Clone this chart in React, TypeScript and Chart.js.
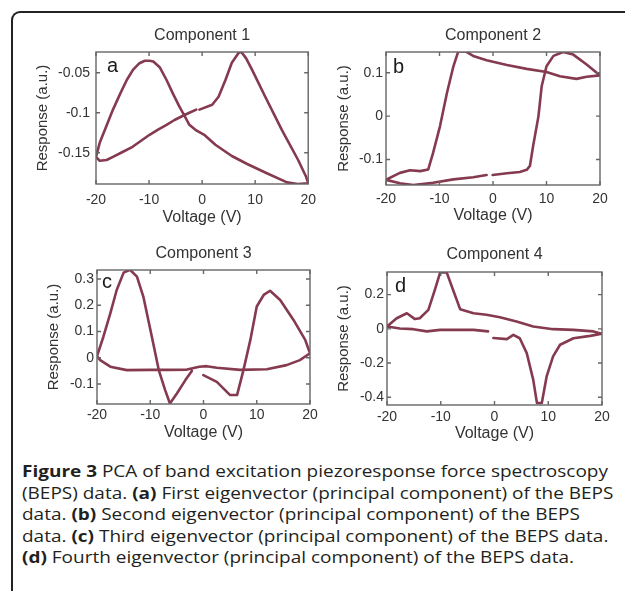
import React, { useEffect, useRef } from 'react';
import { Chart, registerables } from 'chart.js';

Chart.register(...registerables);

// ---- data -------------------------------------------------------------
const voltageTicks = [-20, -10, 0, 10, 20];

// Component 1 loop (0 → +20 → -20 → 0)
const voltsA = [-0.5, 1.9, 3.1, 4.4, 5.6, 6.9, 7.4, 8.3, 9.4, 11.9, 15, 18.1, 19.6, 20,
  18, 16, 12, 8.5, 5.6, 2.5, 0.5, -1.1, -2.4, -3.3, -4.3, -5.5, -6.7, -8, -9.2, -9.9, -10.8, -11.8, -13, -14.2, -15.5, -16.8, -18, -19.3, -20,
  -19.3, -18, -16.8, -15, -13.1, -11.5, -9.9, -8.3, -6.7, -5.2, -3.7, -2.4, -1.1];
const respA = [-0.096, -0.09, -0.08, -0.059, -0.0375, -0.025, -0.024, -0.032, -0.046, -0.08, -0.121, -0.159, -0.18, -0.188,
  -0.189, -0.187, -0.175, -0.164, -0.154, -0.14, -0.128, -0.122, -0.115, -0.104, -0.092, -0.076, -0.059, -0.043, -0.036, -0.035, -0.035, -0.038, -0.046, -0.059, -0.077, -0.096, -0.116, -0.1375, -0.155,
  -0.16, -0.159, -0.155, -0.149, -0.1425, -0.135, -0.1275, -0.121, -0.115, -0.109, -0.104, -0.1, -0.096];

// Component 2 loop
const voltsB = [-0.06, 2.6, 5, 6.3, 6.9, 7.5, 8.5, 9.1, 10, 11.3, 13.1, 15, 17.5, 20,
  17.5, 15.6, 12.5, 10, 6.3, 2.6, -1.2, -3.7, -5.2, -6.5, -7.4, -8.6, -9.9, -11.2, -12.1, -13.6, -15.5, -17.4, -20,
  -17.4, -14.9, -11.2, -7.4, -3.7, -1.2];
const respB = [-0.136, -0.132, -0.129, -0.124, -0.115, -0.069, 0, 0.069, 0.115, 0.139, 0.148, 0.142, 0.119, 0.094,
  0.091, 0.086, 0.092, 0.102, 0.109, 0.118, 0.129, 0.139, 0.15, 0.149, 0.115, 0.054, -0.023, -0.085, -0.123, -0.127, -0.125, -0.131, -0.147,
  -0.155, -0.159, -0.154, -0.146, -0.141, -0.136];

// Component 3 loop
const voltsC = [-0.03, 2.5, 5, 6.3, 7.5, 8.8, 10, 11.3, 12.5, 14.4, 16.9, 19.1, 20,
  18.1, 15.6, 11.9, 6.9, 2.5, 0.6, -0.8, -3.1, -6.5, -10, -14.4, -17.5, -19.4, -20,
  -18.8, -17.5, -16.3, -15, -13.8, -12.5, -11.3, -9.7, -8.4, -7.2, -6.3, -5, -3.4, -2.2];
const respC = [-0.066, -0.092, -0.142, -0.142, -0.047, 0.068, 0.195, 0.239, 0.255, 0.22, 0.144, 0.068, 0.017,
  -0.009, -0.028, -0.044, -0.046, -0.038, -0.032, -0.034, -0.045, -0.046, -0.046, -0.047, -0.034, -0.009, 0.006,
  0.08, 0.169, 0.258, 0.324, 0.335, 0.309, 0.233, 0.08, -0.047, -0.123, -0.174, -0.136, -0.085, -0.05];

// Component 4 loop
const voltsD = [-0.2, 2.3, 3.5, 4.7, 6, 7.2, 7.9, 8.8, 9.7, 10.9, 12.2, 14.7, 17.8, 20,
  18.4, 14.7, 10.9, 7.2, 4.1, 1, -1.5, -3.9, -6.4, -7.7, -8.9, -10.1, -11.1, -12.3, -13.9, -14.8, -16.3, -18.2, -20,
  -17.6, -15.1, -12.6, -10.1, -7, -3.9, -1.2];
const respD = [-0.054, -0.06, -0.035, -0.055, -0.142, -0.297, -0.433, -0.433, -0.278, -0.161, -0.093, -0.055, -0.041, -0.029,
  -0.015, -0.006, -0.002, 0.014, 0.043, 0.068, 0.082, 0.091, 0.115, 0.227, 0.33, 0.33, 0.227, 0.111, 0.062, 0.057, 0.091, 0.062, 0.014,
  0.002, -0.002, -0.015, -0.006, -0.006, -0.006, -0.015];

const yTicksA = [-0.15, -0.1, -0.05];
const yTicksB = [-0.1, 0, 0.1];
const yTicksC = [-0.1, 0, 0.1, 0.2, 0.3];
const yTicksD = [-0.4, -0.2, 0, 0.2];

const titles = ['Component 1', 'Component 2', 'Component 3', 'Component 4'];
const letters = ['a', 'b', 'c', 'd'];

// ---- styling ------------------------------------------------------------
const FONT = '"Liberation Sans", Arial, Helvetica, sans-serif';
const TEXT = '#333333';
const LINE = '#853a4f';
const BOX = '#666666';

type Geo = {
  left: number; top: number; width: number; height: number;
  yAxisW: number; xAxisH: number; titleGap: number; padRight: number;
  xTickPad: number; yTickPad: number; letterDx: number; letterDy: number;
};

type PanelProps = {
  title: string; letter: string; volts: number[]; resp: number[];
  yMin: number; yMax: number; yTicks: number[]; geo: Geo;
};

// draws the axes box, inward tick marks and the panel letter
const panelFrame = {
  id: 'panelFrame',
  afterDatasetsDraw(chart: any, _args: any, opts: any) {
    const { ctx, chartArea: a, scales } = chart;
    const len = 4;
    ctx.save();
    ctx.strokeStyle = BOX;
    ctx.lineWidth = 1.4;
    ctx.strokeRect(a.left, a.top, a.right - a.left, a.bottom - a.top);
    ctx.beginPath();
    scales.x.ticks.forEach((t: any) => {
      const px = scales.x.getPixelForValue(t.value);
      ctx.moveTo(px, a.bottom); ctx.lineTo(px, a.bottom - len);
      ctx.moveTo(px, a.top); ctx.lineTo(px, a.top + len);
    });
    scales.y.ticks.forEach((t: any) => {
      const py = scales.y.getPixelForValue(t.value);
      ctx.moveTo(a.left, py); ctx.lineTo(a.left + len, py);
      ctx.moveTo(a.right, py); ctx.lineTo(a.right - len, py);
    });
    ctx.stroke();
    ctx.fillStyle = '#1a1a1a';
    ctx.font = `20px ${FONT}`;
    ctx.textBaseline = 'alphabetic';
    ctx.textAlign = 'left';
    ctx.fillText(opts.letter, a.left + opts.dx, a.top + opts.dy);
    ctx.restore();
  },
};

function Panel({ title, letter, volts, resp, yMin, yMax, yTicks, geo }: PanelProps) {
  const ref = useRef<HTMLCanvasElement>(null);

  useEffect(() => {
    if (!ref.current) return;
    const tickFont = { family: FONT, size: 14 };
    const titleFont = { family: FONT, size: 16 };
    const xTitleFont = { family: FONT, size: 16 };
    const yTitleFont = { family: FONT, size: 15 };
    const chart = new Chart(ref.current, {
      type: 'scatter',
      data: {
        datasets: [{
          data: volts.map((v, i) => ({ x: v, y: resp[i] })),
          showLine: true,
          borderColor: LINE,
          borderWidth: 2.6,
          borderJoinStyle: 'round',
          borderCapStyle: 'round',
          pointRadius: 0,
          tension: 0,
        }],
      },
      options: {
        animation: false,
        responsive: false,
        events: [],
        layout: { padding: { left: 0, right: geo.padRight, top: 0, bottom: 0 } },
        plugins: {
          legend: { display: false },
          tooltip: { enabled: false },
          title: {
            display: true,
            text: title,
            color: TEXT,
            fullSize: false,
            font: { ...titleFont, weight: 'normal' },
            padding: { top: 0, bottom: geo.titleGap },
          },
          panelFrame: { letter, dx: geo.letterDx, dy: geo.letterDy },
        } as any,
        scales: {
          x: {
            type: 'linear',
            min: -20,
            max: 20,
            grid: { display: false, drawTicks: false },
            border: { display: false },
            afterBuildTicks: (s: any) => { s.ticks = voltageTicks.map((v) => ({ value: v })); },
            afterFit: (s: any) => { s.height = geo.xAxisH; },
            ticks: {
              padding: geo.xTickPad, color: TEXT, font: tickFont,
              maxRotation: 0, autoSkip: false, callback: (v: any) => String(v),
            },
            title: { display: true, text: 'Voltage (V)', color: TEXT, font: xTitleFont, padding: 0 },
          },
          y: {
            type: 'linear',
            min: yMin,
            max: yMax,
            grid: { display: false, drawTicks: false },
            border: { display: false },
            afterBuildTicks: (s: any) => { s.ticks = yTicks.map((v) => ({ value: v })); },
            afterFit: (s: any) => { s.width = geo.yAxisW; },
            ticks: {
              padding: geo.yTickPad, color: TEXT, font: tickFont,
              autoSkip: false, callback: (v: any) => String(v),
            },
            title: { display: true, text: 'Response (a.u.)', color: TEXT, font: yTitleFont, padding: 0 },
          },
        },
      },
      plugins: [panelFrame],
    } as any);
    return () => chart.destroy();
  }, [title, letter, volts, resp, yMin, yMax, yTicks, geo]);

  return (
    <canvas
      ref={ref}
      width={geo.width}
      height={geo.height}
      style={{ position: 'absolute', left: geo.left, top: geo.top, width: geo.width, height: geo.height }}
    />
  );
}

// panel placement inside the figure
const geoA: Geo = { left: 34, top: 26, width: 290, height: 201, yAxisW: 62, xAxisH: 43, titleGap: 6.8, padRight: 14, xTickPad: 8, yTickPad: 6, letterDx: 11, letterDy: 20 };
const geoB: Geo = { left: 335, top: 26, width: 280, height: 199, yAxisW: 51, xAxisH: 40, titleGap: 6.8, padRight: 15, xTickPad: 6, yTickPad: 3, letterDx: 7, letterDy: 21 };
const geoC: Geo = { left: 45, top: 244, width: 279, height: 198, yAxisW: 52, xAxisH: 38, titleGap: 6.8, padRight: 14, xTickPad: 3, yTickPad: 3, letterDx: 5, letterDy: 18 };
const geoD: Geo = { left: 335, top: 245, width: 282, height: 198, yAxisW: 52, xAxisH: 38, titleGap: 7.8, padRight: 15, xTickPad: 4, yTickPad: 3, letterDx: 8, letterDy: 20 };

const bold = { fontWeight: 700 } as const;

export default function App() {
  return (
    <div style={{ position: 'absolute', left: 0, top: 0, width: 625, height: 591, overflow: 'hidden', background: '#ffffff' }}>
      <div
        style={{
          position: 'absolute', left: 11, top: 11, width: 800, height: 800,
          borderTop: '2px solid #222', borderLeft: '2px solid #222', borderTopLeftRadius: 9,
        }}
      />
      <Panel title={titles[0]} letter={letters[0]} volts={voltsA} resp={respA} yMin={-0.189} yMax={-0.024} yTicks={yTicksA} geo={geoA} />
      <Panel title={titles[1]} letter={letters[1]} volts={voltsB} resp={respB} yMin={-0.159} yMax={0.148} yTicks={yTicksB} geo={geoB} />
      <Panel title={titles[2]} letter={letters[2]} volts={voltsC} resp={respC} yMin={-0.176} yMax={0.334} yTicks={yTicksC} geo={geoC} />
      <Panel title={titles[3]} letter={letters[3]} volts={voltsD} resp={respD} yMin={-0.445} yMax={0.332} yTicks={yTicksD} geo={geoD} />
      <div
        style={{
          position: 'absolute', left: 22, top: 460, whiteSpace: 'nowrap',
          fontFamily: '"Open Sans", sans-serif', fontSize: 16.5, lineHeight: '21.6px', color: '#231f20',
          transform: 'scaleX(1.15)', transformOrigin: 'left top',
        }}
      >
        <span style={bold}>Figure 3</span> PCA of band excitation piezoresponse force spectroscopy<br />
        (BEPS) data. <span style={bold}>(a)</span> First eigenvector (principal component) of the BEPS<br />
        data. <span style={bold}>(b)</span> Second eigenvector (principal component) of the BEPS<br />
        data. <span style={bold}>(c)</span> Third eigenvector (principal component) of the BEPS data.<br />
        <span style={bold}>(d)</span> Fourth eigenvector (principal component) of the BEPS data.
      </div>
    </div>
  );
}
